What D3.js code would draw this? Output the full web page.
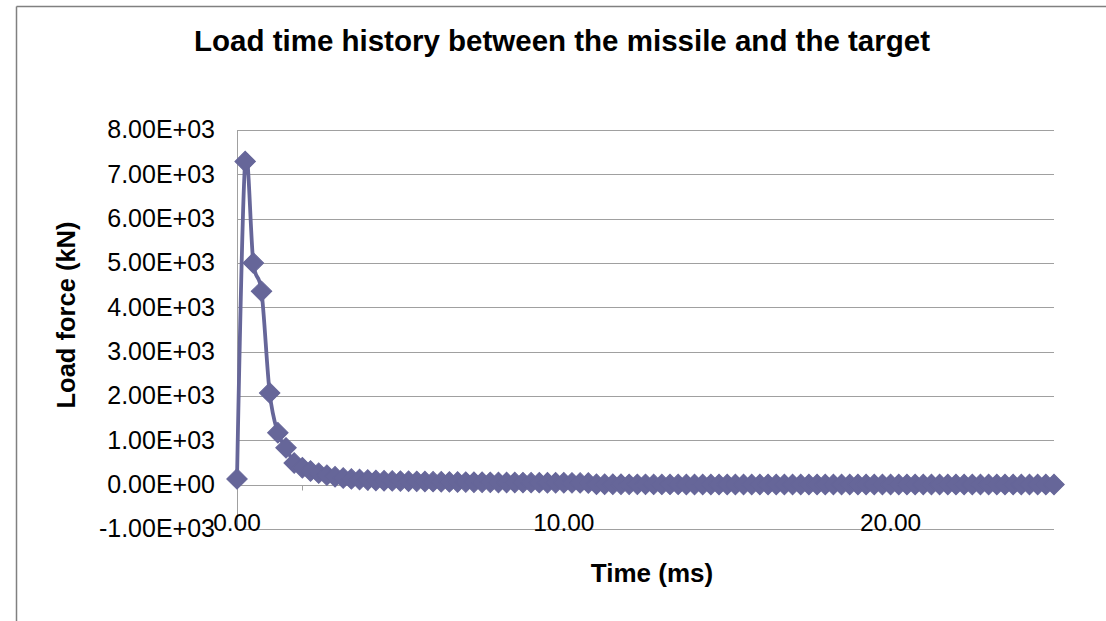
<!DOCTYPE html>
<html>
<head>
<meta charset="utf-8">
<script src="https://cdn.jsdelivr.net/npm/d3@7"></script>
<style>
  html, body { margin: 0; padding: 0; background: #fff; }
  svg { display: block; font-family: "Liberation Sans", Arial, sans-serif; }
</style>
</head>
<body>
<svg id="chart" width="1106" height="621"></svg>
<script>
// ---- data ----
const chartTitle = "Load time history between the missile and the target";
const xTitle = "Time (ms)";
const yTitle = "Load force (kN)";

const timeMs = [
  0.00, 0.25, 0.50, 0.75, 1.00, 1.25, 1.50, 1.75, 2.00, 2.25,
  2.50, 2.75, 3.00, 3.25, 3.50, 3.75, 4.00, 4.25, 4.50, 4.75,
  5.00, 5.25, 5.50, 5.75, 6.00, 6.25, 6.50, 6.75, 7.00, 7.25,
  7.50, 7.75, 8.00, 8.25, 8.50, 8.75, 9.00, 9.25, 9.50, 9.75,
  10.00, 10.25, 10.50, 10.75, 11.00, 11.25, 11.50, 11.75, 12.00, 12.25,
  12.50, 12.75, 13.00, 13.25, 13.50, 13.75, 14.00, 14.25, 14.50, 14.75,
  15.00, 15.25, 15.50, 15.75, 16.00, 16.25, 16.50, 16.75, 17.00, 17.25,
  17.50, 17.75, 18.00, 18.25, 18.50, 18.75, 19.00, 19.25, 19.50, 19.75,
  20.00, 20.25, 20.50, 20.75, 21.00, 21.25, 21.50, 21.75, 22.00, 22.25,
  22.50, 22.75, 23.00, 23.25, 23.50, 23.75, 24.00, 24.25, 24.50, 24.75,
  25.00
];

const loadKN = [
  130, 7290, 5000, 4360, 2070, 1170, 830, 490, 380, 310,
  260, 215, 180, 150, 130, 115, 105, 95, 90, 85,
  80, 78, 75, 72, 68, 65, 62, 60, 58, 56,
  54, 52, 50, 50, 48, 47, 46, 45, 44, 43,
  42, 41, 40, 38, 10, 9, 8, 8, 7, 7,
  7, 6, 6, 6, 6, 5, 5, 5, 5, 5,
  5, 5, 4, 4, 4, 4, 4, 4, 4, 4,
  4, 4, 4, 3, 3, 3, 3, 3, 3, 3,
  3, 3, 3, 3, 3, 3, 3, 3, 3, 3,
  3, 3, 3, 3, 3, 3, 3, 3, 3, 3,
  3
];

const yTickValues = [-1000, 0, 1000, 2000, 3000, 4000, 5000, 6000, 7000, 8000];
const yTickLabels = ["-1.00E+03", "0.00E+00", "1.00E+03", "2.00E+03", "3.00E+03",
                     "4.00E+03", "5.00E+03", "6.00E+03", "7.00E+03", "8.00E+03"];
const xTickMarks = [0, 2, 4, 6, 8, 10, 12, 14, 16, 18, 20, 22, 24];
const xTickValues = [0, 10, 20];
const xTickLabels = ["0.00", "10.00", "20.00"];

// ---- layout ----
const W = 1106, H = 621;
const plot = { left: 237, right: 1054, top: 130, bottom: 529 };
const seriesColor = "#666699";
const gridColor = "#a0a0a0";

const svg = d3.select("#chart");

// chart frame (left and top edges visible)
svg.append("line").attr("x1", 16.5).attr("x2", 16.5).attr("y1", 6.5).attr("y2", H)
  .attr("stroke", "#808080").attr("stroke-width", 1.5);
svg.append("line").attr("x1", 16.5).attr("x2", W).attr("y1", 6.5).attr("y2", 6.5)
  .attr("stroke", "#808080").attr("stroke-width", 1.5);

const x = d3.scaleLinear().domain([0, 25]).range([plot.left, plot.right]);
const y = d3.scaleLinear().domain([-1000, 8000]).range([plot.bottom, plot.top]);

// gridlines
svg.append("g").selectAll("line").data(yTickValues).join("line")
  .attr("x1", plot.left).attr("x2", plot.right)
  .attr("y1", d => Math.round(y(d)) + 0.5).attr("y2", d => Math.round(y(d)) + 0.5)
  .attr("stroke", gridColor).attr("stroke-width", 1);

// y axis line
svg.append("line")
  .attr("x1", plot.left + 0.5).attr("x2", plot.left + 0.5)
  .attr("y1", plot.top).attr("y2", plot.bottom + 1)
  .attr("stroke", gridColor).attr("stroke-width", 1);

// x axis tick marks (axis crosses at y = 0)
const y0 = Math.round(y(0)) + 0.5;
svg.append("g").selectAll("line").data(xTickMarks).join("line")
  .attr("x1", d => Math.round(x(d)) + 0.5).attr("x2", d => Math.round(x(d)) + 0.5)
  .attr("y1", y0).attr("y2", y0 + 5)
  .attr("stroke", gridColor).attr("stroke-width", 1);

// y tick labels
svg.append("g").selectAll("text").data(yTickValues).join("text")
  .attr("x", 215).attr("y", d => y(d))
  .attr("dy", "0.33em")
  .attr("text-anchor", "end")
  .attr("font-size", 25)
  .attr("fill", "#000")
  .text((d, i) => yTickLabels[i]);

// x tick labels
svg.append("g").selectAll("text").data(xTickValues).join("text")
  .attr("x", d => x(d)).attr("y", 531)
  .attr("text-anchor", "middle")
  .attr("font-size", 24.5)
  .attr("fill", "#000")
  .text((d, i) => xTickLabels[i]);

// series line (smoothed)
const line = d3.line()
  .x((d, i) => x(timeMs[i]))
  .y(d => y(d))
  .curve(d3.curveCatmullRom.alpha(0));

svg.append("path")
  .datum(loadKN)
  .attr("d", line)
  .attr("fill", "none")
  .attr("stroke", seriesColor)
  .attr("stroke-width", 3.8)
  .attr("stroke-linejoin", "round");

// diamond markers
const diamond = d3.symbol().type(d3.symbolSquare).size(210);
svg.append("g").selectAll("path").data(loadKN).join("path")
  .attr("d", diamond)
  .attr("transform", (d, i) => `translate(${x(timeMs[i])},${y(d)}) rotate(45)`)
  .attr("fill", seriesColor)
  .attr("stroke", seriesColor)
  .attr("stroke-width", 1);

// titles
svg.append("text")
  .attr("x", 562).attr("y", 51)
  .attr("text-anchor", "middle")
  .attr("font-size", 29.5).attr("font-weight", "bold")
  .text(chartTitle);

svg.append("text")
  .attr("x", 652).attr("y", 582)
  .attr("text-anchor", "middle")
  .attr("font-size", 26).attr("font-weight", "bold")
  .text(xTitle);

svg.append("text")
  .attr("transform", "translate(75,315) rotate(-90)")
  .attr("text-anchor", "middle")
  .attr("font-size", 25.5).attr("font-weight", "bold")
  .text(yTitle);
</script>
</body>
</html>
